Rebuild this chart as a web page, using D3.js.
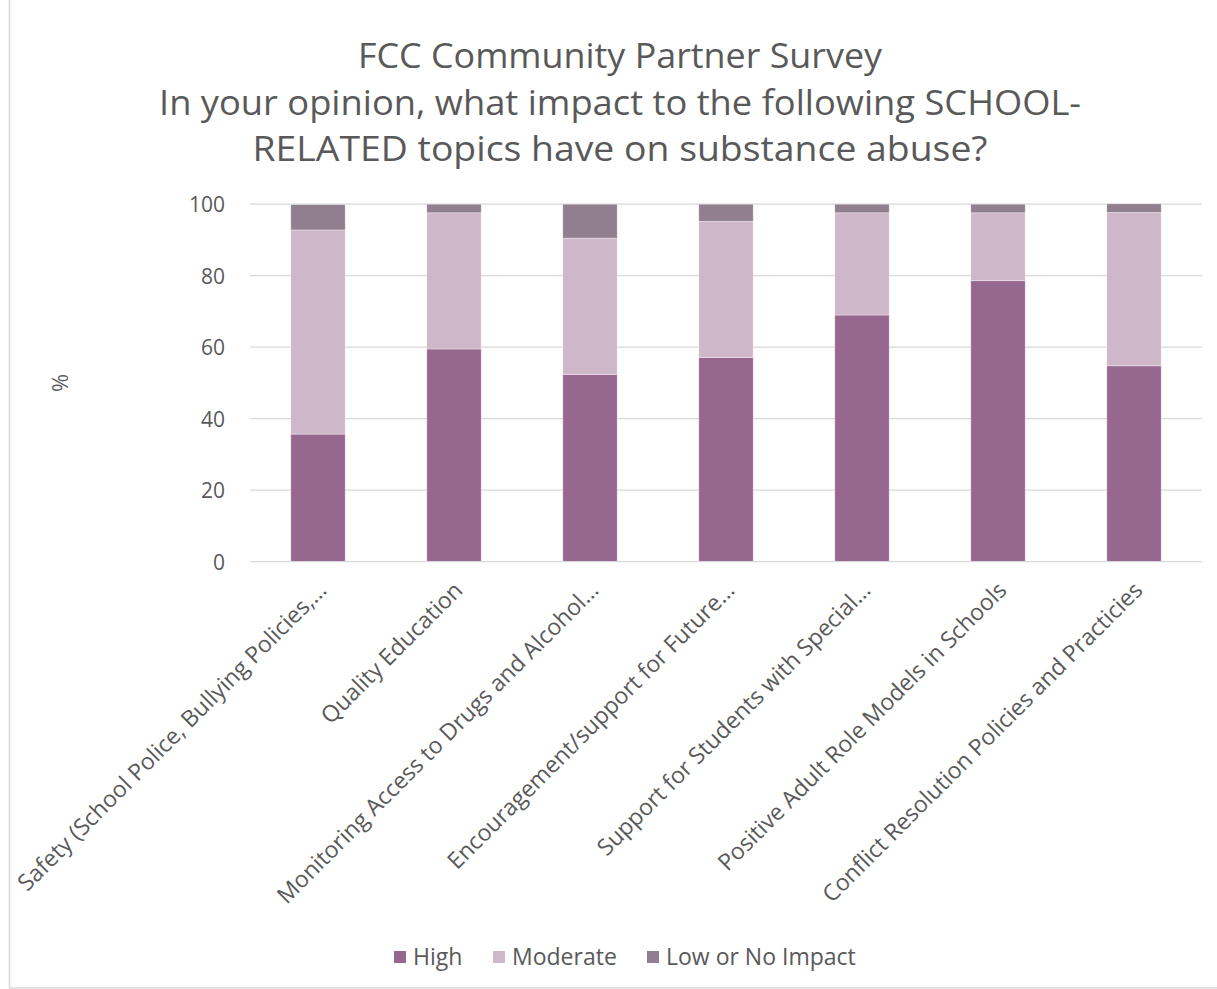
<!DOCTYPE html>
<html><head><meta charset="utf-8">
<script src="https://cdn.jsdelivr.net/npm/d3@7"></script>
<style>body{margin:0;background:#fff}svg{display:block}text{font-family:"Open Sans",sans-serif;fill:#595959}</style>
</head><body><svg id="c" width="1217" height="989"></svg>
<script>
const categories = ["Safety (School Police, Bullying Policies,…","Quality Education","Monitoring Access to Drugs and Alcohol…","Encouragement/support for Future…","Support for Students with Special…","Positive Adult Role Models in Schools","Conflict Resolution Policies and Practicies"];
const seriesNames = ["High","Moderate","Low or No Impact"];
const high = [35.7,59.5,52.4,57.1,69.0,78.6,54.8];
const moderate = [57.1,38.1,38.1,38.1,28.6,19.0,42.9];
const low = [7.1,2.4,9.5,4.8,2.4,2.4,2.4];
const yTicks = [0,20,40,60,80,100];
const colors = ["#97688f","#cfb7ca","#917f8f"];
const titleLines = ["FCC Community Partner Survey","In your opinion, what impact to the following SCHOOL-","RELATED topics have on substance abuse?"];

const svg = d3.select("#c");
svg.append("rect").attr("x",9.5).attr("y",-2).attr("width",1300).attr("height",990).attr("fill","none").attr("stroke","#d9d9d9").attr("stroke-width",1.5);

const x = d3.scaleBand().domain(categories).range([250,1202]).paddingInner(0.6).paddingOuter(0.3);
const y = d3.scaleLinear().domain([0,100]).range([561.7,204.2]);

svg.append("g").selectAll("line").data(yTicks.filter(d=>d>0)).join("line")
  .attr("x1",250).attr("x2",1202).attr("y1",d=>y(d)).attr("y2",d=>y(d))
  .attr("stroke","#d9d9d9").attr("stroke-width",1.3);

const data = categories.map((c,i)=>({cat:c,High:high[i],Moderate:moderate[i],"Low or No Impact":low[i]}));
const stack = d3.stack().keys(seriesNames)(data);
svg.append("g").selectAll("g").data(stack).join("g").attr("fill",(d,i)=>colors[i])
  .selectAll("rect").data(d=>d).join("rect")
  .attr("x",d=>x(d.data.cat)).attr("width",x.bandwidth())
  .attr("y",d=>y(d[1])).attr("height",d=>y(d[0])-y(d[1]))
  .attr("stroke","#fff").attr("stroke-opacity",0.5).attr("stroke-width",0.7);

svg.append("line").attr("x1",250).attr("x2",1202).attr("y1",y(0)).attr("y2",y(0)).attr("stroke","#d9d9d9").attr("stroke-width",1.3);

const yAxis = d3.axisLeft(y).tickValues(yTicks).tickSize(0).tickPadding(0);
const yg = svg.append("g").attr("transform","translate(225,0)").call(yAxis);
yg.select(".domain").remove();
yg.selectAll("text").attr("font-size",21).attr("dy","0.35em").style("font-family","Open Sans").attr("fill","#595959");

const xAxis = d3.axisBottom(x).tickSize(0).tickPadding(0);
const xg = svg.append("g").attr("transform",`translate(0,${y(0)})`).call(xAxis);
xg.select(".domain").remove();
xg.selectAll("text").attr("font-size",23).style("font-family","Open Sans").attr("fill","#595959")
  .attr("text-anchor","end").attr("dy",null).attr("y",0)
  .attr("transform","translate(10,30) rotate(-45)");

svg.append("text").attr("transform","translate(68,383) rotate(-90)").attr("text-anchor","middle").attr("font-size",22).text("%");

const widths=[524,922,735];
const baselines=[68,115,161];
svg.append("g").selectAll("text").data(titleLines).join("text")
  .attr("x",620).attr("y",(d,i)=>baselines[i]).attr("text-anchor","middle").attr("font-size",34)
  .attr("textLength",(d,i)=>widths[i]).attr("lengthAdjust","spacingAndGlyphs").text(d=>d);

const legX=[394,493,647];
const lg = svg.append("g").selectAll("g").data(seriesNames).join("g").attr("transform",(d,i)=>`translate(${legX[i]},957)`);
lg.append("rect").attr("x",0).attr("y",-6).attr("width",12).attr("height",12).attr("fill",(d,i)=>colors[i]);
lg.append("text").attr("x",19).attr("y",0).attr("dy","0.35em").attr("font-size",23).text(d=>d);
</script></body></html>
